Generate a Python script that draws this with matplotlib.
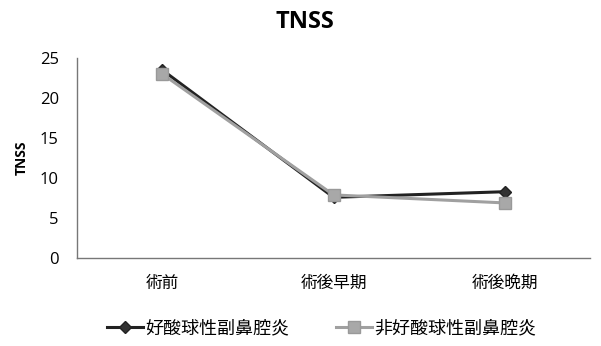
import matplotlib.pyplot as plt
from matplotlib.lines import Line2D

plt.rcParams['font.family'] = ['Noto Sans CJK JP', 'DejaVu Sans']

stages = ['術前', '術後早期', '術後晩期']
eos = [23.5, 7.6, 8.3]        # 好酸球性副鼻腔炎
non_eos = [23.0, 7.9, 6.9]    # 非好酸球性副鼻腔炎
yticks = [0, 5, 10, 15, 20, 25]

fig = plt.figure(figsize=(6.01, 3.46), dpi=100)
ax = fig.add_axes([0.128, 0.254, 0.854, 0.578])

x = range(len(stages))
ax.plot(x, eos, color='#222222', lw=2.2, marker='D', ms=6,
        markerfacecolor='#333333', markeredgecolor='#222222', zorder=3)
ax.plot(x, non_eos, color='#a0a0a0', lw=2.2, marker='s', ms=8,
        markerfacecolor='#a8a8a8', markeredgecolor='#999999', zorder=4)

ax.set_xlim(-0.5, 2.5)
ax.set_ylim(0, 25)
ax.set_xticks(list(x))
ax.set_xticklabels(stages, fontsize=12)
ax.set_yticks(yticks)
ax.set_yticklabels([str(v) for v in yticks], fontsize=12, family='Open Sans')
ax.tick_params(length=0)
ax.tick_params(axis='y', pad=13)
ax.tick_params(axis='x', pad=12)

for side in ['top', 'right']:
    ax.spines[side].set_visible(False)
for side in ['left', 'bottom']:
    ax.spines[side].set_color('#777777')
    ax.spines[side].set_linewidth(1.0)

ax.set_ylabel('TNSS', fontsize=10, fontweight='bold', family='Open Sans', labelpad=8)
fig.text(0.507, 0.935, 'TNSS', ha='center', va='center', fontsize=17,
         fontweight='bold', family='Open Sans')

handles = [
    Line2D([], [], color='#222222', lw=2.2, marker='D', ms=6,
           markerfacecolor='#333333'),
    Line2D([], [], color='#a0a0a0', lw=2.2, marker='s', ms=8,
           markerfacecolor='#a8a8a8', markeredgecolor='#999999'),
]
fig.legend(handles, ['好酸球性副鼻腔炎', '非好酸球性副鼻腔炎'], loc='center',
           bbox_to_anchor=(0.535, 0.05), ncol=2, frameon=False, fontsize=13,
           handlelength=2.0, handletextpad=0.1, columnspacing=2.6)

fig.savefig('out.png', dpi=100)
